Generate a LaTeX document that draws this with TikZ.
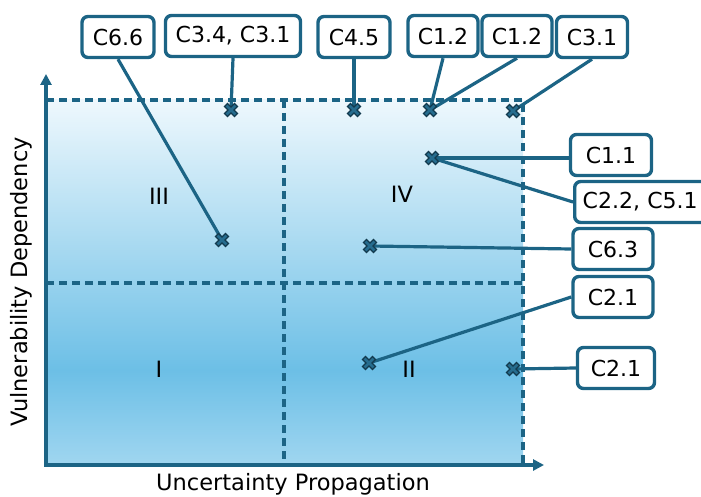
\documentclass[tikz,border=0pt]{standalone}
\usepackage{fontspec}
\setmainfont{DejaVu Sans}
\usetikzlibrary{arrows.meta}
\definecolor{lc}{RGB}{28,100,133}
\definecolor{mkd}{RGB}{18,58,78}
\definecolor{mkf}{RGB}{38,108,142}
\definecolor{gtop}{RGB}{238,248,253}
\definecolor{gmid}{RGB}{108,191,230}
\definecolor{gbot}{RGB}{160,214,240}
\tikzset{
 lbl/.style={draw=lc, line width=3.4pt, rounded corners=6pt, fill=white, minimum height=41pt, inner sep=1pt, font=\fontsize{22}{26}\selectfont, text=black},
 conn/.style={draw=lc, line width=3.2pt},
 quad/.style={draw=lc, line width=3.2pt, dash pattern=on 8pt off 5pt},
 axisln/.style={draw=lc, line width=3.4pt, {Triangle[length=11pt,width=11pt]}-{Triangle[length=11pt,width=11pt]}},
 roman/.style={font=\fontsize{22.5}{26}\selectfont, text=black},
 axlbl/.style={font=\fontsize{22.5}{26}\selectfont, text=black},
 mkx/.pic={
   \draw[line width=5.4pt, mkd] (-5.4,-5.4) -- (5.4,5.4) (-5.4,5.4) -- (5.4,-5.4);
   \draw[line width=2.8pt, mkf] (-4.4,-4.4) -- (4.4,4.4) (-4.4,4.4) -- (4.4,-4.4);
 }
}
\begin{document}
\begin{tikzpicture}[x=1pt,y=-1pt]
\clip (0,0) rectangle (701,497);
% background gradient
\shade[top color=gtop, bottom color=gmid] (46,100) rectangle (523,371);
\shade[top color=gmid, bottom color=gbot] (46,370) rectangle (523,465);
% quadrant dashed lines
\draw[quad] (46,100) -- (523,100) -- (523,465);
\draw[quad] (284,100) -- (284,465);
\draw[quad] (46,283) -- (523,283);
% axes
\draw[axisln] (46,74) -- (46,465) -- (544,465);
% axis labels
\node[axlbl] (xlab) at (293,484) {Uncertainty Propagation};
\node[axlbl, rotate=90] (ylab) at (21,282) {Vulnerability Dependency};
% roman numerals
\node[roman] (q3) at (159,196) {III};
\node[roman] (q4) at (402,194) {IV};
\node[roman] (q1) at (159,369) {I};
\node[roman] (q2) at (409,369) {II};
% marker positions
\coordinate (m66) at (222,240);
\coordinate (m34) at (231,110);
\coordinate (m45) at (354,110);
\coordinate (m12) at (430,110);
\coordinate (m31) at (513,111);
\coordinate (m11) at (432,158);
\coordinate (m63) at (370,246);
\coordinate (m21a) at (369,363);
\coordinate (m21b) at (513,369);
% label boxes
\node[lbl, minimum width=72pt] (b66) at (118,37) {C6.6};
\node[lbl, minimum width=135pt] (b34) at (233,36) {C3.4, C3.1};
\node[lbl, minimum width=72pt] (b45) at (354,37) {C4.5};
\node[lbl, minimum width=70pt] (b12a) at (443,36) {C1.2};
\node[lbl, minimum width=70pt] (b12b) at (517,36) {C1.2};
\node[lbl, minimum width=71pt] (b31) at (592,37) {C3.1};
\node[lbl, minimum width=81pt] (b11) at (611,155) {C1.1};
\node[lbl, minimum width=150pt, anchor=west, text width=140pt, align=left] (b22) at (573,202) {\hspace*{3pt}C2.2, C5.1};
\node[lbl, minimum width=80pt] (b63) at (613,249) {C6.3};
\node[lbl, minimum width=80pt] (b21a) at (613,297) {C2.1};
\node[lbl, minimum width=77pt] (b21b) at (616,368) {C2.1};
% connectors
\draw[conn] (b66.south) -- (m66);
\draw[conn] (b34.south) -- (m34);
\draw[conn] (b45.south) -- (m45);
\draw[conn] (b12a.south) -- (m12);
\draw[conn] (b12b.south) -- (m12);
\draw[conn] (b31.south) -- (m31);
\draw[conn] (m11) -- (b11.west |- m11);
\draw[conn] (m11) -- (b22.west);
\draw[conn] (m63) -- (b63.west);
\draw[conn] (m21a) -- (b21a.west);
\draw[conn] (m21b) -- (b21b.west);
% markers
\foreach \m in {m66,m34,m45,m12,m31,m11,m63,m21a,m21b} {\pic at (\m) {mkx};}
\end{tikzpicture}
\end{document}
